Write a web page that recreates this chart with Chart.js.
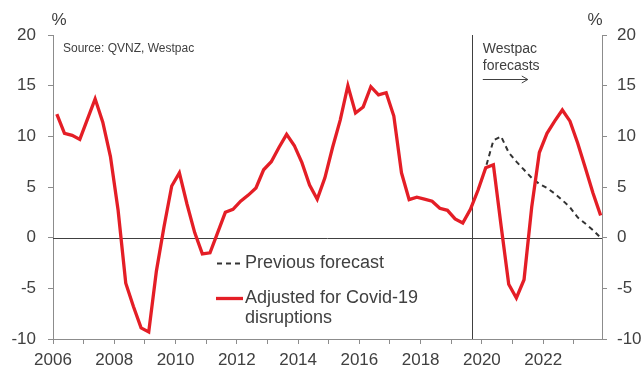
<!DOCTYPE html>
<html>
<head>
<meta charset="utf-8">
<script src="https://cdn.jsdelivr.net/npm/chart.js@4.4.1/dist/chart.umd.min.js"></script>
<style>
  body { margin: 0; background: #fff; }
  canvas { display: block; }
</style>
</head>
<body>
<canvas id="houseChart" width="644" height="369"></canvas>
<script>
// quarterly house price inflation, annual % change
const firstYear = 2006;
const lastYear = 2023;
const adjustedForecast = [
  12.2, 10.3, 10.1, 9.7,
  11.7, 13.7, 11.4, 8.0,
  2.7, -4.5, -6.8, -8.9,
  -9.3, -3.3, 1.1, 5.1,
  6.4, 3.3, 0.5, -1.6,
  -1.5, 0.5, 2.5, 2.8,
  3.6, 4.2, 4.9, 6.7,
  7.5, 8.9, 10.2, 9.1,
  7.4, 5.2, 3.8, 5.9,
  8.9, 11.6, 15.0, 12.3,
  12.9, 14.9, 14.1, 14.3,
  12.0, 6.4, 3.75, 4.0,
  3.8, 3.6, 2.9, 2.7,
  1.85, 1.45, 2.8, 4.7,
  6.9, 7.2, 1.2, -4.6,
  -5.95, -4.15, 3.0, 8.4,
  10.3, 11.5, 12.6, 11.5,
  9.35, 6.9, 4.4, 2.2
];
// previous forecast starts from the June 2019 quarter
const previousStart = "2019Q2";
const previousForecast = [
  1.45, 2.8, 4.7, 6.9, 9.6, 10.0, 8.4, 7.5, 6.7, 5.9,
  5.3, 4.9, 4.35, 3.7, 3.0, 2.0, 1.4, 0.75, 0.0
];
const yTicks = [-10, -5, 0, 5, 10, 15, 20];
const xTickLabels = ["2006", "2008", "2010", "2012", "2014", "2016", "2018", "2020", "2022"];
const forecastFrom = 2019.67;

// quarter labels like "2006Q1" -> decimal year at mid quarter
const quarters = [];
for (let y = firstYear; y <= lastYear; y++) {
  for (let q = 1; q <= 4; q++) quarters.push(y + "Q" + q);
}
function quarterToYear(s) {
  const y = Number(s.slice(0, 4));
  const q = Number(s.slice(5));
  return y + (q - 1) * 0.25 + 0.125;
}
const startIdx = quarters.indexOf(previousStart);

const redPoints = adjustedForecast.map((v, i) => ({ x: quarterToYear(quarters[i]), y: v }));
const dashPoints = previousForecast.map((v, i) => ({ x: quarterToYear(quarters[startIdx + i]), y: v }));

const FONT = "'Liberation Sans', Arial, sans-serif";
const TEXT = "#404040";
const AXIS = "#8c8c8c";
const RED = "#e41e26";

const extras = {
  id: "extras",
  beforeDatasetsDraw(chart) {
    const { ctx, chartArea, scales } = chart;
    ctx.save();
    ctx.strokeStyle = "#404040";
    ctx.lineWidth = 1;
    const y0 = Math.round(scales.y.getPixelForValue(0)) + 0.5;
    ctx.beginPath();
    ctx.moveTo(chartArea.left, y0);
    ctx.lineTo(chartArea.right, y0);
    ctx.stroke();
    const xf = Math.round(scales.x.getPixelForValue(forecastFrom)) + 0.5;
    ctx.beginPath();
    ctx.moveTo(xf, chartArea.top);
    ctx.lineTo(xf, chartArea.bottom);
    ctx.stroke();
    ctx.restore();
  },
  afterDraw(chart) {
    const { ctx, chartArea, scales } = chart;
    ctx.save();
    ctx.fillStyle = TEXT;
    ctx.textBaseline = "middle";

    ctx.font = "17px " + FONT;
    ctx.textAlign = "center";
    ctx.fillText("%", chartArea.left + 6, 20);
    ctx.fillText("%", chartArea.right - 7, 20);

    ctx.textAlign = "left";
    ctx.font = "12px " + FONT;
    ctx.fillText("Source: QVNZ, Westpac", chartArea.left + 10, 49);

    const xf = scales.x.getPixelForValue(forecastFrom);
    ctx.font = "14px " + FONT;
    ctx.fillText("Westpac", xf + 11, 49);
    ctx.fillText("forecasts", xf + 11, 66);
    ctx.strokeStyle = "#404040";
    ctx.lineWidth = 1;
    ctx.beginPath();
    ctx.moveTo(xf + 11, 79.5);
    ctx.lineTo(xf + 56, 79.5);
    ctx.moveTo(xf + 50, 76);
    ctx.lineTo(xf + 56, 79.5);
    ctx.lineTo(xf + 50, 83);
    ctx.stroke();

    // legend
    const ds = chart.data.datasets;
    ctx.font = "18px " + FONT;
    ctx.strokeStyle = ds[0].borderColor;
    ctx.lineWidth = ds[0].borderWidth;
    ctx.setLineDash(ds[0].borderDash);
    ctx.beginPath();
    ctx.moveTo(217, 263.5);
    ctx.lineTo(240, 263.5);
    ctx.stroke();
    ctx.setLineDash([]);
    ctx.fillText(ds[0].label, 245, 263);

    ctx.strokeStyle = ds[1].borderColor;
    ctx.lineWidth = ds[1].borderWidth;
    ctx.beginPath();
    ctx.moveTo(216, 298.5);
    ctx.lineTo(243, 298.5);
    ctx.stroke();
    ds[1].label.forEach((line, i) => ctx.fillText(line, 245, 298 + i * 20));
    ctx.restore();
  }
};

const axisGrid = {
  drawOnChartArea: false,
  drawTicks: true,
  tickLength: 5,
  color: AXIS
};

new Chart(document.getElementById("houseChart"), {
  type: "line",
  data: {
    datasets: [
      {
        label: "Previous forecast",
        data: dashPoints,
        borderColor: "#333333",
        borderWidth: 2,
        borderDash: [5, 4],
        pointRadius: 0,
        tension: 0,
        order: 2
      },
      {
        label: ["Adjusted for Covid-19", "disruptions"],
        data: redPoints,
        borderColor: RED,
        borderWidth: 3.3,
        pointRadius: 0,
        tension: 0,
        order: 1
      }
    ]
  },
  options: {
    responsive: false,
    animation: false,
    layout: { padding: { top: 35, left: 0, right: 0, bottom: 0 } },
    plugins: { legend: { display: false }, tooltip: { enabled: false } },
    scales: {
      x: {
        type: "linear",
        min: firstYear,
        max: 2023.92,
        afterBuildTicks(scale) {
          const t = [];
          for (let y = firstYear; y <= lastYear; y++) t.push({ value: y });
          scale.ticks = t;
        },
        afterFit(scale) { scale.height = 30; },
        grid: axisGrid,
        border: { display: true, color: AXIS },
        ticks: {
          autoSkip: false,
          maxRotation: 0,
          padding: 6,
          color: TEXT,
          font: { family: FONT, size: 17 },
          callback: (v) => xTickLabels.includes(String(v)) ? String(v) : ""
        }
      },
      y: {
        position: "left",
        min: -10,
        max: 20,
        afterBuildTicks(scale) { scale.ticks = yTicks.map(v => ({ value: v })); },
        afterFit(scale) { scale.width = 53; },
        grid: axisGrid,
        border: { display: true, color: AXIS },
        ticks: { padding: 12, color: TEXT, font: { family: FONT, size: 17 } }
      },
      y2: {
        position: "right",
        min: -10,
        max: 20,
        afterBuildTicks(scale) { scale.ticks = yTicks.map(v => ({ value: v })); },
        afterFit(scale) { scale.width = 42; },
        grid: axisGrid,
        border: { display: true, color: AXIS },
        ticks: { padding: 10, color: TEXT, font: { family: FONT, size: 17 } }
      }
    }
  },
  plugins: [extras]
});
</script>
</body>
</html>
